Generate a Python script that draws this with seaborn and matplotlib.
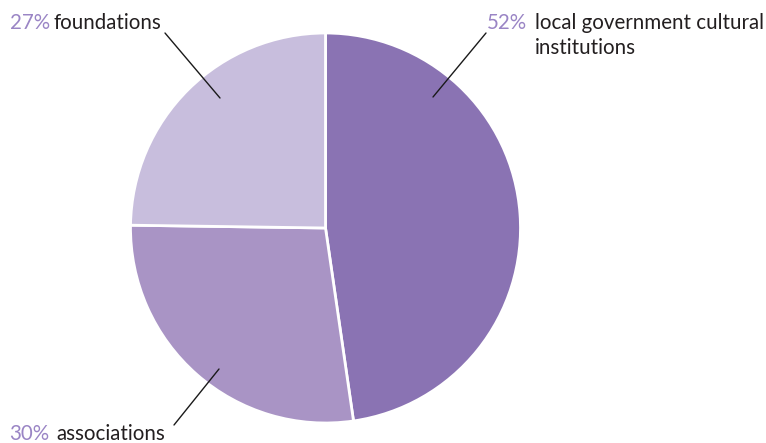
import matplotlib
matplotlib.use("Agg")
import matplotlib.pyplot as plt
import seaborn as sns

# Shares by organiser type (values as labelled)
categories = ["local government cultural\ninstitutions", "associations", "foundations"]
shares = [52, 30, 27]
share_labels = ["52%", "30%", "27%"]
colors = ["#8A73B3", "#A994C5", "#C8BEDD"]

sns.set_theme(style="white")
plt.rcParams["font.family"] = ["Lato", "DejaVu Sans"]

W, H = 766, 443
fig = plt.figure(figsize=(W / 100, H / 100), dpi=100)
ax = fig.add_axes([0, 0, 1, 1])

cx, cy, R = 325.5, H - 228, 195
ax.pie(shares, colors=colors, startangle=90, counterclock=False,
       center=(cx, cy), radius=R, frame=True,
       wedgeprops=dict(edgecolor="white", linewidth=2.0))
ax.set_xlim(0, W)
ax.set_ylim(0, H)
ax.set_aspect("equal")
ax.axis("off")

pct_color = "#9A85C5"
txt_color = "#231F20"
fs = 14.8
line_gap = 25

# (percent x, label x, first baseline y, leader from, leader to) in pixel coordinates
layout = [
    (487, 535, 29, (433, 97), (486, 33)),
    (9, 56, 440, (219, 369), (174, 425)),
    (10, 54, 29, (220, 98), (165, 33)),
]
for cat, lab, (px, lx, by, p0, p1) in zip(categories, share_labels, layout):
    ax.text(px, H - by, lab, color=pct_color, fontsize=fs, va="baseline", ha="left")
    for i, line in enumerate(cat.split("\n")):
        ax.text(lx, H - by - i * line_gap, line, color=txt_color, fontsize=fs,
                va="baseline", ha="left")
    ax.plot([p0[0], p1[0]], [H - p0[1], H - p1[1]], color="#1a1a1a", lw=1.0)

fig.savefig("out.png", dpi=100)
